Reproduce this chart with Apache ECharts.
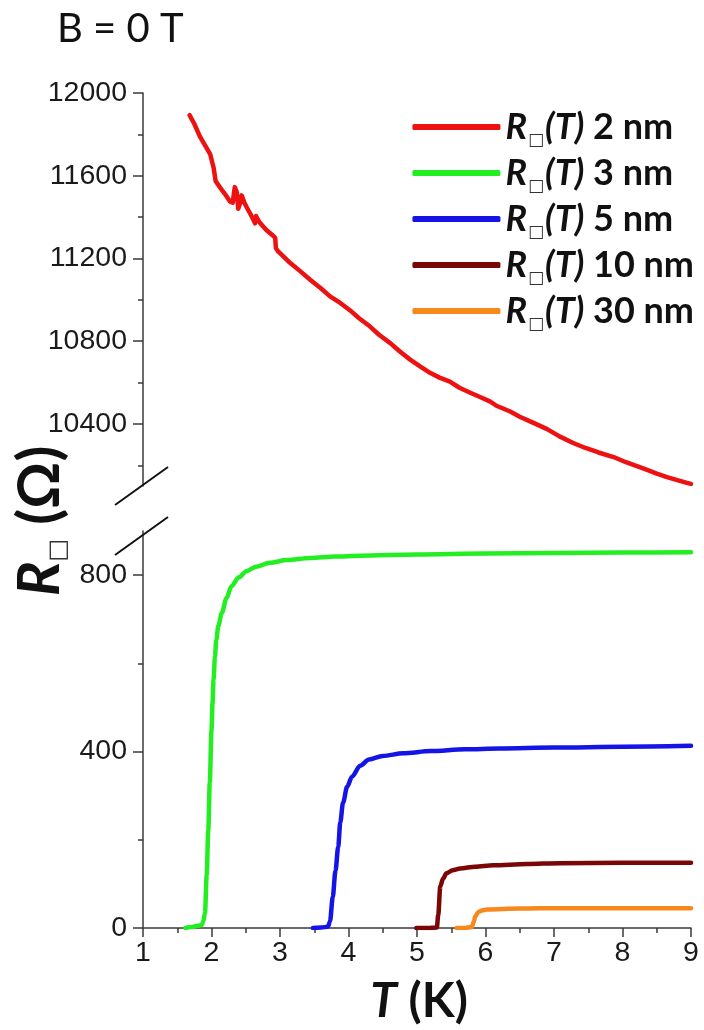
<!DOCTYPE html>
<html>
<head>
<meta charset="utf-8">
<script src="https://cdn.jsdelivr.net/npm/echarts@6/dist/echarts.min.js"></script>
<style>
  html, body { margin: 0; padding: 0; background: #fff; }
  #chart { width: 704px; height: 1030px; }
</style>
</head>
<body>
<div id="chart"></div>
<script>
// Sheet resistance vs temperature, films of different thickness, B = 0 T
const filmLabels = ['2 nm', '3 nm', '5 nm', '10 nm', '30 nm'];

// [T (K), R (Ohm)]
const film2nm = [
  [1.68, 11893], [1.75, 11850], [1.83, 11790], [1.90, 11750], [1.98, 11705],
  [2.03, 11640], [2.06, 11575], [2.12, 11545], [2.20, 11510], [2.27, 11475],
  [2.31, 11470], [2.34, 11545], [2.37, 11520], [2.39, 11440], [2.42, 11470],
  [2.44, 11505], [2.48, 11470], [2.51, 11450], [2.56, 11420], [2.60, 11395],
  [2.635, 11370], [2.65, 11405], [2.70, 11375], [2.80, 11338], [2.90, 11310],
  [2.93, 11300], [2.94, 11250], [2.97, 11235], [3.00, 11226], [3.15, 11178],
  [3.29, 11140], [3.44, 11097], [3.60, 11055], [3.73, 11017], [3.88, 10985],
  [4.02, 10950], [4.15, 10912], [4.31, 10872], [4.45, 10830], [4.61, 10791],
  [4.75, 10750], [4.90, 10711], [5.05, 10677], [5.19, 10647], [5.33, 10624],
  [5.48, 10605], [5.62, 10575], [5.77, 10552], [5.92, 10530], [6.07, 10508],
  [6.16, 10488], [6.36, 10460], [6.50, 10435], [6.70, 10405], [6.90, 10375],
  [7.08, 10340], [7.28, 10308], [7.45, 10285], [7.65, 10262], [7.87, 10240],
  [8.05, 10215], [8.20, 10197], [8.35, 10179], [8.50, 10160], [8.65, 10143],
  [8.80, 10128], [8.94, 10115], [9.00, 10110]
];
const film3nm = [
  [1.62, 0], [1.70, 2], [1.80, 5], [1.857, 7], [1.88, 15], [1.905, 34],
  [1.93, 120], [1.953, 222], [1.975, 330], [2.00, 449], [2.015, 510],
  [2.03, 563], [2.05, 615], [2.07, 653], [2.10, 685], [2.15, 714],
  [2.22, 748], [2.29, 775], [2.40, 795], [2.51, 809], [2.65, 819],
  [2.85, 828], [3.10, 834], [3.44, 839], [3.80, 842], [4.17, 844],
  [5.00, 847], [6.00, 849], [7.00, 850], [8.00, 851], [9.00, 852]
];
const film5nm = [
  [3.48, 0], [3.60, 1], [3.70, 3], [3.73, 15], [3.77, 70], [3.81, 130],
  [3.85, 184], [3.88, 240], [3.92, 284], [3.98, 320], [4.05, 343],
  [4.17, 368], [4.30, 382], [4.50, 390], [4.80, 396], [5.20, 401],
  [5.70, 405], [6.20, 407], [7.00, 409], [8.00, 411], [9.00, 413]
];
const film10nm = [
  [4.99, 0], [5.15, 0], [5.29, 1], [5.31, 30], [5.34, 94], [5.38, 112],
  [5.43, 124], [5.52, 131], [5.63, 135], [5.85, 139], [6.11, 142],
  [6.60, 145], [7.09, 147], [8.00, 148], [9.00, 148]
];
const film30nm = [
  [5.58, 0], [5.70, 0], [5.80, 2], [5.83, 15], [5.85, 26], [5.90, 37],
  [5.96, 40], [6.02, 42], [6.50, 44], [7.09, 45], [8.00, 45], [9.00, 45]
];

// axis ranges and tick positions (broken resistance axis)
const tRange = [1, 9];
const upperRange = [10100, 12000];
const upperMajorTicks = [10400, 10800, 11200, 11600, 12000];
const upperMinorTicks = [10200, 10600, 11000, 11400, 11800];
const lowerRange = [0, 900];
const lowerMajorTicks = [0, 400, 800];
const lowerMinorTicks = [200, 600];

const axisColor = '#3a3a3a';
const labelFont = { fontFamily: 'Liberation Sans', fontSize: 28.5, color: '#1a1a1a' };

function majorYAxis(gridIndex, range, ticks) {
  return {
    type: 'value', gridIndex, position: 'left', min: range[0], max: range[1],
    axisLine: { show: true, lineStyle: { color: axisColor, width: 1.5 } },
    axisTick: { show: true, inside: false, length: 10, customValues: ticks,
      lineStyle: { color: axisColor, width: 1.5 } },
    axisLabel: Object.assign({ show: true, margin: 16, customValues: ticks,
      formatter: v => String(v) }, labelFont),
    splitLine: { show: false }
  };
}
function minorYAxis(gridIndex, range, ticks) {
  return {
    type: 'value', gridIndex, position: 'left', offset: 0, min: range[0], max: range[1],
    axisLine: { show: false },
    axisTick: { show: true, inside: false, length: 5, customValues: ticks,
      lineStyle: { color: axisColor, width: 1.5 } },
    axisLabel: { show: false },
    splitLine: { show: false }
  };
}

const lineWidth = 4.5;
function curve(name, data, color, xi, yi, smooth) {
  return {
    name, type: 'line', data, xAxisIndex: xi, yAxisIndex: yi,
    showSymbol: false, symbol: 'none', smooth: smooth, smoothMonotone: 'x',
    lineStyle: { color, width: lineWidth, cap: 'round', join: 'round' },
    itemStyle: { color }, z: 3
  };
}

const legendRich = {
  r: { fontFamily: 'Lato', fontWeight: 'bold', fontStyle: 'italic', fontSize: 36, color: '#111', lineHeight: 38 },
  sub: { fontFamily: 'DejaVu Sans', fontSize: 17, color: '#333', lineHeight: 17, verticalAlign: 'bottom', padding: [0, 1, -3, 1] },
  t: { fontFamily: 'Lato', fontWeight: 'bold', fontStyle: 'italic', fontSize: 36, color: '#111', lineHeight: 38 },
  n: { fontFamily: 'Lato', fontWeight: 'bold', fontSize: 36, color: '#111', lineHeight: 38 }
};

const chart = echarts.init(document.getElementById('chart'), null, { renderer: 'canvas' });

chart.setOption({
  backgroundColor: '#ffffff',
  animation: false,
  title: {
    text: 'B = 0 T', left: 52, top: 4,
    textStyle: { fontFamily: 'Lato', fontWeight: 'normal', fontSize: 40, color: '#111' }
  },
  legend: {
    orient: 'vertical', right: 5, top: 104, itemWidth: 88, itemHeight: 6, itemGap: 6,
    icon: 'roundRect', data: filmLabels,
    formatter: name => '{r|R}{sub|\u25A1}{t|(T)}{n| ' + name + '}',
    textStyle: { rich: legendRich }
  },
  grid: [
    { left: 143, right: 13, top: 93, height: 393 },
    { left: 143, right: 13, top: 531, height: 397 }
  ],
  xAxis: [
    { type: 'value', gridIndex: 0, min: tRange[0], max: tRange[1], show: false },
    {
      type: 'value', gridIndex: 1, min: tRange[0], max: tRange[1], interval: 1,
      axisLine: { show: true, onZero: false, lineStyle: { color: axisColor, width: 1.5 } },
      axisTick: { show: true, inside: false, length: 9, lineStyle: { color: axisColor, width: 1.5 } },
      minorTick: { show: true, splitNumber: 2, length: 5, lineStyle: { color: axisColor, width: 1.5 } },
      axisLabel: Object.assign({ margin: 11 }, labelFont),
      splitLine: { show: false }, minorSplitLine: { show: false }
    }
  ],
  yAxis: [
    majorYAxis(0, upperRange, upperMajorTicks),
    minorYAxis(0, upperRange, upperMinorTicks),
    majorYAxis(1, lowerRange, lowerMajorTicks),
    minorYAxis(1, lowerRange, lowerMinorTicks)
  ],
  series: [
    curve(filmLabels[0], film2nm, '#ee1111', 0, 0, false),
    curve(filmLabels[1], film3nm, '#22ee22', 1, 2, 0.3),
    curve(filmLabels[2], film5nm, '#1414e6', 1, 2, 0.3),
    curve(filmLabels[3], film10nm, '#7a0606', 1, 2, 0.3),
    curve(filmLabels[4], film30nm, '#f7891c', 1, 2, 0.3)
  ]
});

// axis-break slashes at the two ends of the broken resistance axis, and axis titles
const upperEnd = chart.convertToPixel({ gridIndex: 0 }, [tRange[0], upperRange[0]]);
const lowerEnd = chart.convertToPixel({ gridIndex: 1 }, [tRange[0], lowerRange[1]]);
function slash(cx, cy) {
  return {
    type: 'line', shape: { x1: cx - 27, y1: cy + 19, x2: cx + 26, y2: cy - 19 },
    style: { stroke: '#111', lineWidth: 2 }, z: 10
  };
}
chart.setOption({
  graphic: [
    slash(upperEnd[0] - 1, upperEnd[1]),
    slash(lowerEnd[0] - 1, lowerEnd[1] + 5),
    {
      type: 'text', x: 40, y: 521, rotation: Math.PI / 2, z: 10,
      style: {
        text: '{r|R}{sub|\u25A1}{n| (\u03A9)}',
        align: 'center', verticalAlign: 'middle',
        rich: {
          r: { fontFamily: 'Lato', fontWeight: 'bold', fontStyle: 'italic', fontSize: 58, fill: '#111', lineHeight: 62 },
          sub: { fontFamily: 'DejaVu Sans', fontSize: 24, fill: '#333', lineHeight: 24, verticalAlign: 'bottom' },
          n: { fontFamily: 'Lato', fontWeight: 'bold', fontSize: 58, fill: '#111', lineHeight: 62 }
        }
      }
    },
    {
      type: 'text', x: 419, y: 1002, z: 10,
      style: {
        text: '{t|T}{n| (K)}', align: 'center', verticalAlign: 'middle',
        rich: {
          t: { fontFamily: 'Lato', fontWeight: 'bold', fontStyle: 'italic', fontSize: 48, fill: '#111' },
          n: { fontFamily: 'Lato', fontWeight: 'bold', fontSize: 48, fill: '#111' }
        }
      }
    }
  ]
});
</script>
</body>
</html>
